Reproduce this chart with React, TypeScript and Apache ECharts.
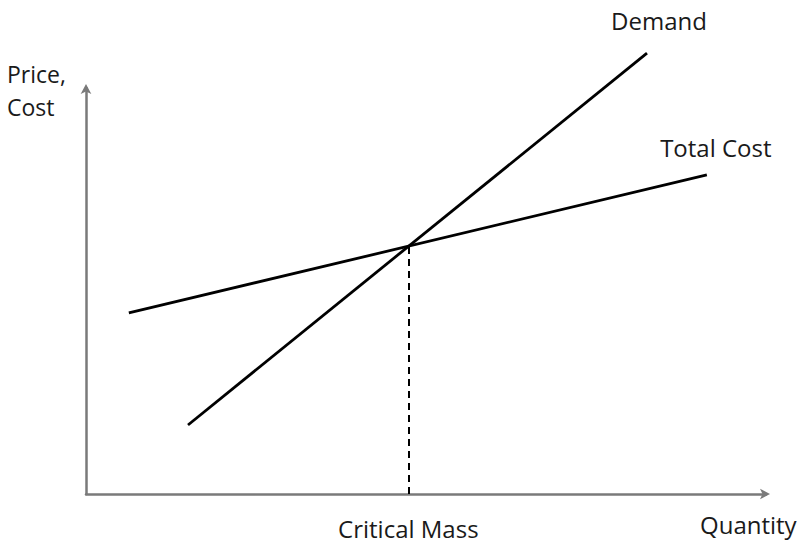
import React, { useEffect, useRef } from "react";
import * as echarts from "echarts";

const demandX = [15.0, 82.5];
const demandY = [17.0, 108.6];
const costX = [6.3, 91.3];
const costY = [44.6, 78.6];
const criticalMass = 47.4;
const criticalPrice = 61.1;
const xAxisName = "Quantity";
const yAxisName = "Price,\nCost";
const criticalLabel = "Critical Mass";

const FONT = "Open Sans";
const FS = 24;
const TXT = "#1a1a1a";

export default function App() {
  const ref = useRef<HTMLDivElement>(null);
  useEffect(() => {
    if (!ref.current) return;
    const chart = echarts.init(ref.current, null, { renderer: "svg" });
    const axisLine = {
      show: true,
      lineStyle: { color: "#7a7a7a", width: 2.5 },
      symbol: ["none", "arrow"],
      symbolSize: [8, 10],
      symbolOffset: [0, 4],
    };
    chart.setOption({
      animation: false,
      backgroundColor: "#ffffff",
      textStyle: { fontFamily: FONT },
      grid: { left: 86, right: 41, top: 88, bottom: 49, containLabel: false },
      xAxis: {
        type: "value",
        min: 0,
        max: 100,
        axisLine,
        axisTick: { show: false },
        axisLabel: { show: false },
        splitLine: { show: false },
        name: xAxisName,
        nameLocation: "end",
        nameGap: -66,
        nameTextStyle: {
          fontFamily: FONT,
          fontSize: FS,
          color: TXT,
          align: "left",
          verticalAlign: "top",
          padding: [18, 0, 0, 0],
        },
      },
      yAxis: {
        type: "value",
        min: 0,
        max: 100,
        axisLine,
        axisTick: { show: false },
        axisLabel: { show: false },
        splitLine: { show: false },
      },
      graphic: [
        {
          type: "text",
          left: 7,
          top: 57,
          style: {
            text: yAxisName,
            fontFamily: FONT,
            fontSize: 23,
            lineHeight: 33,
            fill: TXT,
          },
        },
      ],
      series: [
        {
          name: "Demand",
          type: "line",
          data: demandX.map((x, i) => [x, demandY[i]]),
          clip: false,
          symbol: "none",
          lineStyle: { color: "#000", width: 2.8 },
          endLabel: {
            show: true,
            formatter: "{a}",
            fontFamily: FONT,
            fontSize: FS,
            color: TXT,
            align: "center",
            verticalAlign: "middle",
            distance: 0,
            offset: [12, -33],
          },
          markLine: {
            silent: true,
            symbol: "none",
            lineStyle: { color: "#000", type: [7, 5], width: 2 },
            label: {
              show: true,
              position: "start",
              formatter: criticalLabel,
              fontFamily: FONT,
              fontSize: FS,
              color: TXT,
              distance: 22,
            },
            data: [
              [
                { coord: [criticalMass, 0] },
                { coord: [criticalMass, criticalPrice] },
              ],
            ],
          },
        },
        {
          name: "Total Cost",
          type: "line",
          data: costX.map((x, i) => [x, costY[i]]),
          clip: false,
          symbol: "none",
          lineStyle: { color: "#000", width: 2.8 },
          endLabel: {
            show: true,
            formatter: "{a}",
            fontFamily: FONT,
            fontSize: FS,
            color: TXT,
            align: "center",
            verticalAlign: "middle",
            distance: 0,
            offset: [9, -27],
          },
        },
      ],
    });
    return () => chart.dispose();
  }, []);
  return (
    <div
      ref={ref}
      style={{ position: "absolute", left: 0, top: 0, width: 807, height: 543 }}
    />
  );
}
